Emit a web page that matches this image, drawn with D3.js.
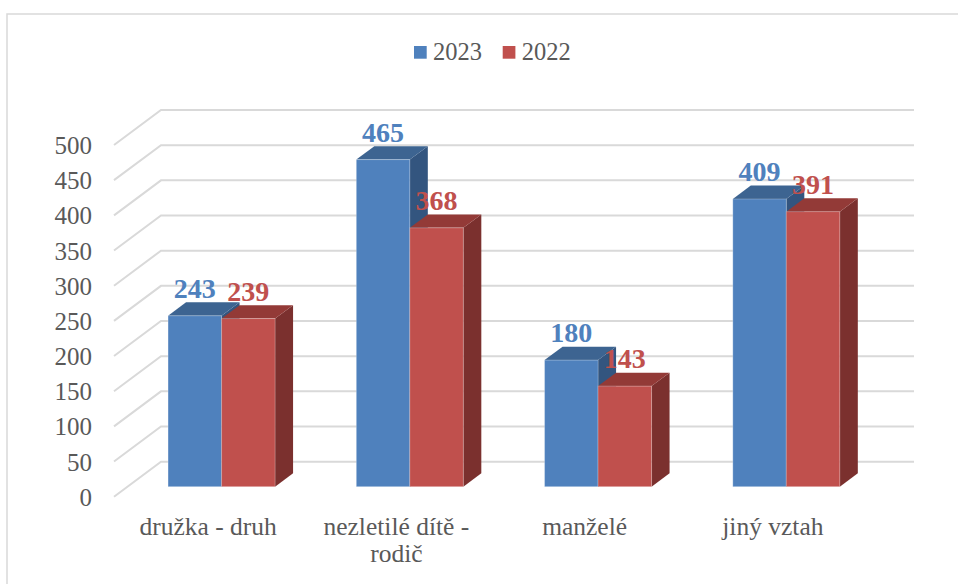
<!DOCTYPE html>
<html>
<head>
<meta charset="utf-8">
<script src="https://cdn.jsdelivr.net/npm/d3@7"></script>
<style>
  body { margin: 0; background: #fff; }
  svg { display: block; }
  .tick-label { font-family: "Liberation Serif", serif; font-size: 25px; fill: #595959; }
  .cat-label { font-family: "Liberation Serif", serif; font-size: 25.5px; fill: #595959; }
  .val-label { font-family: "Liberation Serif", serif; font-size: 28px; font-weight: bold; }
  .legend-label { font-family: "Liberation Serif", serif; font-size: 24.5px; fill: #595959; }
</style>
</head>
<body>
<div id="chart"></div>
<script>
// data
var categories = ["družka - druh", "nezletilé dítě - rodič", "manželé", "jiný vztah"]
var seriesNames = ["2023", "2022"]
var values2023 = [243, 465, 180, 409]
var values2022 = [239, 368, 143, 391]
var yTicks = [0, 50, 100, 150, 200, 250, 300, 350, 400, 450, 500]

var seriesValues = [values2023, values2022]
var colors = [
  {front: "#4F81BD", top: "#3D6491", side: "#33557F"},
  {front: "#C0504D", top: "#933A37", side: "#7B302E"}
]

var W = 958, H = 584

var svg = d3.select('#chart').append('svg').attr('width', W).attr('height', H)

// frame
svg.append('path')
  .attr('d', 'M7,' + H + 'V14H' + W)
  .attr('fill', 'none').attr('stroke', '#d9d9d9').attr('stroke-width', 1.5)

// 3d layout: front plane + depth vector
var DX = 47, DY = -35
var f1 = 0.286, f2 = 0.669   // bar front / back as share of the depth
var barW = 53.5

var x = d3.scaleBand().domain(categories).range([114, 867])
var y = d3.scaleLinear().domain([0, 500]).range([496.7, 145])

// gridlines (floor diagonal + back wall)
var grid = svg.append('g').attr('stroke', '#d9d9d9').attr('stroke-width', 2).attr('fill', 'none')
yTicks.forEach(function(t){
  var x0 = x.range()[0], x1 = x.range()[1]
  grid.append('path').attr('d', 'M' + x0 + ',' + y(t) + 'L' + (x0 + DX) + ',' + (y(t) + DY) + 'H' + (x1 + DX))
})

// y tick labels
svg.append('g').selectAll('text').data(yTicks).enter().append('text')
  .attr('class', 'tick-label')
  .attr('x', 92)
  .attr('y', function(d){ return y(d) + 9 })
  .attr('text-anchor', 'end')
  .text(function(d){ return d })

// bars
var bars = svg.append('g')
categories.forEach(function(cat, i){
  var cx = x(cat) + x.bandwidth() / 2 + f1 * DX
  seriesValues.forEach(function(vals, s){
    var v = vals[i]
    var xl = cx - barW + s * barW, xr = xl + barW
    var yb = y(0) + f1 * DY, yt = y(v) + f1 * DY
    var ddx = (f2 - f1) * DX, ddy = (f2 - f1) * DY
    var g = bars.append('g')
    // side
    g.append('path')
      .attr('d', 'M' + xr + ',' + yt + 'L' + (xr + ddx) + ',' + (yt + ddy) + 'V' + (yb + ddy) + 'L' + xr + ',' + yb + 'Z')
      .attr('fill', colors[s].side)
    // top
    g.append('path')
      .attr('d', 'M' + xl + ',' + yt + 'L' + (xl + ddx) + ',' + (yt + ddy) + 'H' + (xr + ddx) + 'L' + xr + ',' + yt + 'Z')
      .attr('fill', colors[s].top)
    // front
    g.append('rect')
      .attr('x', xl).attr('y', yt).attr('width', barW).attr('height', yb - yt)
      .attr('fill', colors[s].front)
      .attr('stroke', 'rgba(255,255,255,0.25)').attr('stroke-width', 1)
    // value label
    g.append('text')
      .attr('class', 'val-label')
      .attr('x', (xl + xr) / 2)
      .attr('y', yt - 17.7)
      .attr('text-anchor', 'middle')
      .attr('fill', colors[s].front)
      .text(v)
  })
})

// category labels, centred on the front edge of each band
var labelLines = [["družka - druh"], ["nezletilé dítě -", "rodič"], ["manželé"], ["jiný vztah"]]
categories.forEach(function(cat, i){
  var lx = x(cat) + x.bandwidth() / 2
  var t = svg.append('text')
    .attr('class', 'cat-label')
    .attr('text-anchor', 'middle')
    .attr('x', lx)
    .attr('y', 535)
  labelLines[i].forEach(function(line, k){
    t.append('tspan')
      .attr('x', lx)
      .attr('dy', k == 0 ? 0 : 27)
      .text(line)
  })
})

// legend
var legend = svg.append('g')
var legendX = [414, 502.7]
seriesNames.forEach(function(name, s){
  legend.append('rect')
    .attr('x', legendX[s]).attr('y', 46).attr('width', 12.7).attr('height', 12.7)
    .attr('fill', colors[s].front)
  legend.append('text')
    .attr('class', 'legend-label')
    .attr('x', legendX[s] + 19).attr('y', 59.5)
    .text(name)
})
</script>
</body>
</html>
